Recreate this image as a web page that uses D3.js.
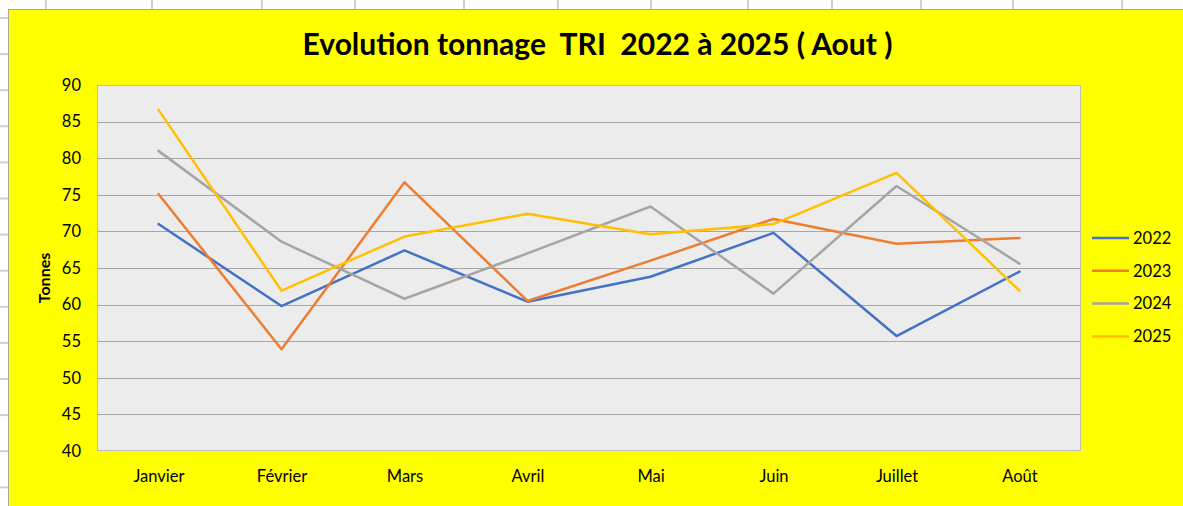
<!DOCTYPE html>
<html>
<head>
<meta charset="utf-8">
<script src="https://cdn.jsdelivr.net/npm/d3@7"></script>
<style>
  html, body { margin: 0; padding: 0; background: #fff; overflow: hidden; }
  text { font-family: Lato, sans-serif; }
</style>
</head>
<body>
<div id="chart"></div>
<script>
"use strict";

// Data
const months = ["Janvier", "Février", "Mars", "Avril", "Mai", "Juin", "Juillet", "Août"];
const years = ["2022", "2023", "2024", "2025"];
const v2022 = [71.0, 59.8, 67.4, 60.4, 63.8, 69.8, 55.7, 64.5];
const v2023 = [75.1, 53.9, 76.7, 60.5, 66.0, 71.7, 68.3, 69.1];
const v2024 = [81.0, 68.6, 60.8, 67.0, 73.4, 61.5, 76.2, 65.6];
const v2025 = [86.6, 61.9, 69.3, 72.4, 69.6, 71.0, 78.0, 61.9];
const yTicks = [40, 45, 50, 55, 60, 65, 70, 75, 80, 85, 90];

const colors = ["#4472C4", "#ED7D31", "#A5A5A5", "#FFC000"];
const series = [v2022, v2023, v2024, v2025].map((values, i) => ({ name: years[i], values, color: colors[i] }));

const W = 1183, H = 506;
const plot = { left: 97, top: 85, right: 1081, bottom: 451 };
const labelFont = "16.5px";

const svg = d3.select("#chart").append("svg")
    .attr("width", W)
    .attr("height", H);

// spreadsheet cells behind the chart
const colLines = [46, 152, 262, 355, 464, 558, 651, 748, 832, 921, 1013, 1122];
svg.append("g").selectAll("line")
    .data(colLines)
    .join("line")
    .attr("x1", d => d).attr("x2", d => d)
    .attr("y1", 0).attr("y2", 9)
    .attr("stroke", "#d0d0d0")
    .attr("stroke-width", 2);

svg.append("g").selectAll("line")
    .data(d3.range(14))
    .join("line")
    .attr("x1", 0).attr("x2", 8)
    .attr("y1", d => 18 + d * 36.1).attr("y2", d => 18 + d * 36.1)
    .attr("stroke", "#d0d0d0")
    .attr("stroke-width", 2);

// chart area
svg.append("rect")
    .attr("x", 8.5).attr("y", 9.5)
    .attr("width", W).attr("height", H)
    .attr("fill", "#FFFF00")
    .attr("stroke", "#a8a890");

// Scales
const x = d3.scalePoint()
    .domain(months)
    .range([plot.left, plot.right])
    .padding(0.5);

const y = d3.scaleLinear()
    .domain([40, 90])
    .range([plot.bottom, plot.top]);

// plot background
svg.append("rect")
    .attr("x", plot.left).attr("y", plot.top)
    .attr("width", plot.right - plot.left)
    .attr("height", plot.bottom - plot.top)
    .attr("fill", "#ECECEC");

// gridlines
svg.append("g").selectAll("line")
    .data(yTicks.slice(1, -1))
    .join("line")
    .attr("x1", plot.left).attr("x2", plot.right)
    .attr("y1", d => Math.round(y(d)) + 0.5).attr("y2", d => Math.round(y(d)) + 0.5)
    .attr("stroke", "#a6a6a6");

svg.append("rect")
    .attr("x", plot.left + 0.5).attr("y", plot.top + 0.5)
    .attr("width", plot.right - plot.left - 1)
    .attr("height", plot.bottom - plot.top - 1)
    .attr("fill", "none")
    .attr("stroke", "#bdbdbd");

// Axes
const yAxis = svg.append("g")
    .attr("transform", `translate(${plot.left},0)`)
    .call(d3.axisLeft(y).tickValues(yTicks).tickSize(0).tickPadding(16));
yAxis.select(".domain").remove();
yAxis.selectAll("text")
    .attr("fill", "#000")
    .style("font-size", labelFont)
    .style("font-family", "Lato, sans-serif");

const xAxis = svg.append("g")
    .attr("transform", `translate(0,${plot.bottom})`)
    .call(d3.axisBottom(x).tickSize(0).tickPadding(19));
xAxis.select(".domain").remove();
xAxis.selectAll("text")
    .attr("fill", "#000")
    .style("font-size", labelFont)
    .style("font-family", "Lato, sans-serif");

svg.append("text")
    .attr("transform", `translate(50,${(plot.top + plot.bottom) / 2 + 10}) rotate(-90)`)
    .attr("text-anchor", "middle")
    .attr("font-size", 16)
    .attr("font-weight", "bold")
    .text("Tonnes");

// Lines
const line = d3.line()
    .x((d, i) => x(months[i]))
    .y(d => y(d));

svg.append("g").selectAll("path")
    .data(series)
    .join("path")
    .attr("d", d => line(d.values))
    .attr("fill", "none")
    .attr("stroke", d => d.color)
    .attr("stroke-width", 2.5)
    .attr("stroke-linejoin", "round")
    .attr("stroke-linecap", "round");

// Legend
const legend = svg.append("g").selectAll("g")
    .data(series)
    .join("g")
    .attr("transform", (d, i) => `translate(1092,${238 + i * 32.8})`);

legend.append("line")
    .attr("x1", 0).attr("x2", 37)
    .attr("stroke", d => d.color)
    .attr("stroke-width", 2.5);

legend.append("text")
    .attr("x", 41)
    .attr("dy", "0.35em")
    .style("font-size", labelFont)
    .text(d => d.name);

// Title
const title = svg.append("text")
    .attr("x", 597.5)
    .attr("y", 55)
    .attr("text-anchor", "middle")
    .attr("font-weight", "bold")
    .attr("font-size", 26)
    .attr("xml:space", "preserve")
    .style("white-space", "pre")
    .text("Evolution tonnage  TRI  2022 à 2025 ( Aout )");

// fit title to the width in the picture
const tw = title.node().getComputedTextLength();
title.attr("font-size", Math.min(30, 26 * 591 / tw));
</script>
</body>
</html>
